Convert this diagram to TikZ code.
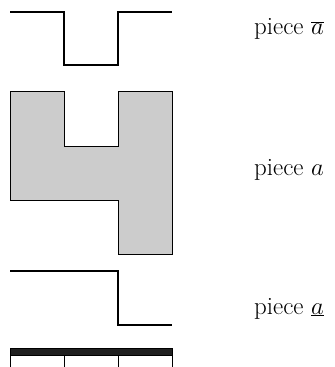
\documentclass[tikz,border=0pt]{standalone}
\begin{document}
\begin{tikzpicture}[x=1bp,y=-1bp,
  wire/.style={line width=1.6bp},
  lbl/.style={anchor=base west,inner sep=0pt,font=\fontsize{25}{30}\selectfont}]
\useasboundingbox (0,0) rectangle (335,367);
% top piece
\draw[wire] (10,12) -- (64,12) -- (64,65) -- (118,65) -- (118,12) -- (172,12);
% middle piece
\draw[fill={rgb,255:red,204;green,204;blue,204},line width=0.8bp]
  (10,91) -- (64,91) -- (64,146) -- (118,146) -- (118,91) -- (172,91)
  -- (172,254) -- (118,254) -- (118,200) -- (10,200) -- cycle;
% bottom piece
\draw[wire] (10,271) -- (118,271) -- (118,325) -- (172,325);
% bar
\draw[fill={rgb,255:red,32;green,32;blue,32},line width=0.8bp] (10,348) rectangle (172,355);
\foreach \x in {10,64,118,172} \draw[line width=0.8bp] (\x,355) -- (\x,367);
% labels
\node[lbl] (t1) at (254,34) {piece $\overline{a}$};
\node[lbl] (t2) at (254,175) {piece $a$};
\node[lbl] (t3) at (254,314) {piece $\underline{a}$};
\end{tikzpicture}
\end{document}
